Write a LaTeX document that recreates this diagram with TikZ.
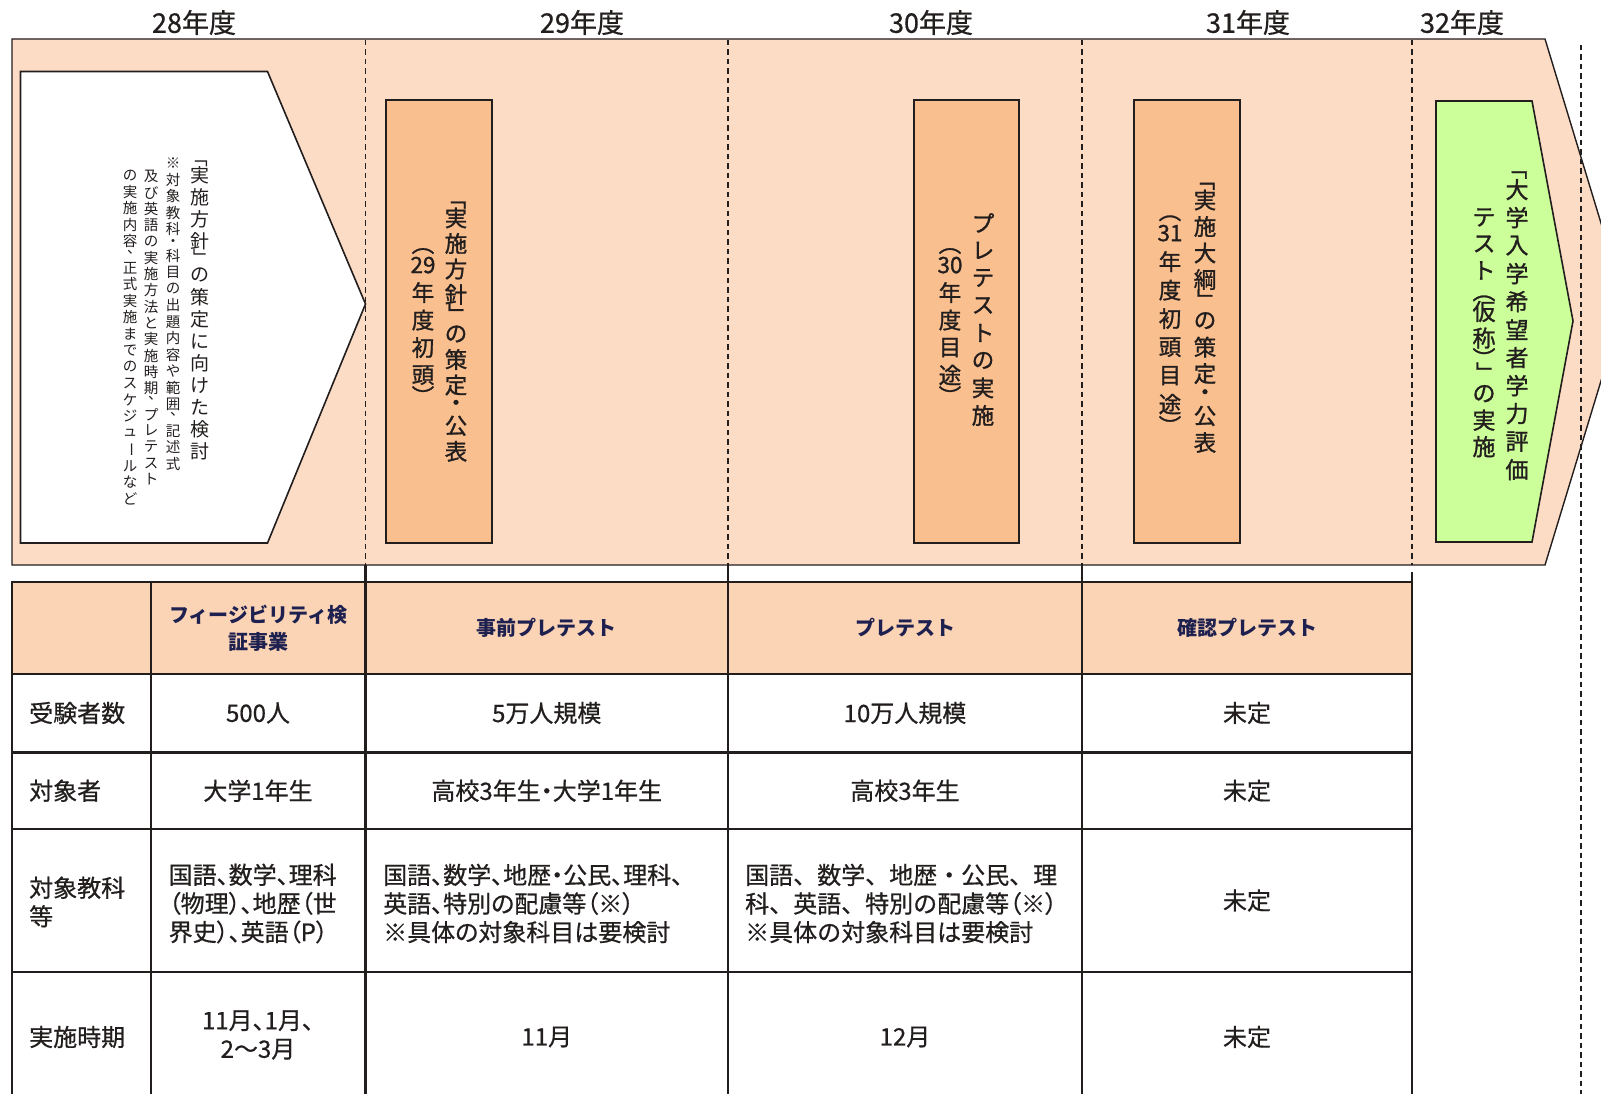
\documentclass[tikz,border=0pt]{standalone}
\usepackage{fontspec}
\usepackage{graphicx}
\setmainfont{Noto Sans CJK JP}
\newfontfamily\pfont[RawFeature=+palt,FakeBold=0.6]{Noto Sans CJK JP}
\newfontfamily\qfont[FakeBold=0.6]{Noto Sans CJK JP}
\newfontfamily\vfont[FakeBold=1.2]{Noto Sans CJK JP}
\definecolor{band}{RGB}{252,220,197}
\definecolor{hdr}{RGB}{251,212,181}
\definecolor{obox}{RGB}{249,191,143}
\definecolor{gbox}{RGB}{204,255,153}
\definecolor{navy}{RGB}{30,32,80}
\definecolor{ink}{RGB}{35,30,30}

\makeatletter
\newdimen\tz@p \newdimen\tz@w
\def\tz@lb{「}\def\tz@rb{」}\def\tz@lp{（}\def\tz@rp{）}\def\tz@bar{ー}\def\tz@cm{、}\def\tz@dot{・}
% \tate{pitch}{cell width}{items}
\newcommand\tate[3]{\vbox{\offinterlineskip\tz@p=#1\relax\tz@w=#2\relax
  \@tfor\tz@x:=#3\do{\tz@cell}}}
\def\tz@box#1#2{\hbox to\tz@w{\hss\vbox to #1\tz@p{\vss\hbox{#2}\vss}\hss}}
\def\tz@rot{\rotatebox[origin=c]{-90}{\tz@x}}
\def\tz@cell{%
  \ifx\tz@x\tz@lb \tz@box{.55}{\tz@rot}\else
  \ifx\tz@x\tz@rb \tz@box{.55}{\tz@rot}\else
  \ifx\tz@x\tz@lp \tz@box{.55}{\tz@rot}\else
  \ifx\tz@x\tz@rp \tz@box{.55}{\tz@rot}\else
  \ifx\tz@x\tz@bar \tz@box{1}{\tz@rot}\else
  \ifx\tz@x\tz@cm \tz@box{.6}{\kern.3em\raisebox{.45em}{\tz@x}\kern-.3em}\else
  \ifx\tz@x\tz@dot \tz@box{.6}{\tz@x}\else
  \tz@box{1}{\tz@x}\fi\fi\fi\fi\fi\fi\fi}
\makeatother

\tikzset{
  bandline/.style={draw=ink, line width=1.4pt},
  dashline/.style={draw=ink, line width=1.1pt, dash pattern=on 5.5pt off 4pt},
  stagebox/.style={draw=ink, line width=1.8pt, fill=obox, inner sep=0pt},
  vtext/.style={inner sep=0pt, anchor=north, text=ink},
  boxtext/.style={vtext, font=\vfont\fontsize{22.5}{25}\selectfont},
  yearlbl/.style={inner sep=0pt, text=ink, font=\qfont\fontsize{27}{30}\selectfont},
  gridline/.style={draw=ink, line width=2.2pt},
  hdtext/.style={inner sep=0pt, align=center, text=navy, font=\bfseries\fontsize{20}{27}\selectfont},
  celltext/.style={inner sep=0pt, align=center, text=ink, font=\pfont\fontsize{24}{28.6}\selectfont},
  lefttext/.style={celltext, align=left, anchor=west},
}

\begin{document}
\begin{tikzpicture}[x=1pt,y=-1pt]
\useasboundingbox (0,0) rectangle (1601,1094);
\clip (0,0) rectangle (1601,1094);
\fill[white] (0,0) rectangle (1601,1094);

% year labels
\node[yearlbl] (y28) at (194,22.5) {28年度};
\node[yearlbl] (y29) at (582,22.5) {29年度};
\node[yearlbl] (y30) at (931,22.5) {30年度};
\node[yearlbl] (y31) at (1248,22.5) {31年度};
\node[yearlbl] (y32) at (1462,22.5) {32年度};

% timeline band
\draw[bandline, fill=band] (12,39) -- (1545,39) -- (1625,302) -- (1545,565) -- (12,565) -- cycle;

% dashed year separators
\draw[dashline] (365.5,40) -- (365.5,565);
\draw[dashline] (728,40) -- (728,565);
\draw[dashline] (1082,40) -- (1082,565);
\draw[dashline] (1412,40) -- (1412,565);
\draw[dashline] (1581,45) -- (1581,1094);

% white arrow
\draw[draw=ink, line width=1.6pt, fill=white] (20.5,71.5) -- (267.5,71.5) -- (365.5,304) -- (267.5,543) -- (20.5,543) -- cycle;
\node[vtext, font=\fontsize{19}{21}\selectfont] (wa1) at (200,152) {\tate{22pt}{20pt}{「実施方針」の策定に向けた検討}};
\node[vtext, font=\fontsize{14.5}{16.5}\selectfont] (wa2) at (173,155) {\tate{16.5pt}{16pt}{※対象教科・科目の出題内容や範囲、記述式}};
\node[vtext, font=\fontsize{14.5}{16.5}\selectfont] (wa3) at (151,168) {\tate{16.3pt}{16pt}{及び英語の実施方法と実施時期、プレテスト}};
\node[vtext, font=\fontsize{14.5}{16.5}\selectfont] (wa4) at (130,167) {\tate{16.5pt}{16pt}{の実施内容、正式実施までのスケジュールなど}};

% stage boxes
\node[stagebox, minimum width=106pt, minimum height=443pt] (box1) at (439,321.5) {};
\node[stagebox, minimum width=105pt, minimum height=443pt] (box2) at (966.5,321.5) {};
\node[stagebox, minimum width=106pt, minimum height=443pt] (box3) at (1187,321.5) {};

\node[boxtext] (b1a) at (456,191) {\tate{25.5pt}{26pt}{「実施方針」の策定・公表}};
\node[boxtext] (b1b) at (423,236) {\tate{27.5pt}{26pt}{（{29}年度初頭）}};
\node[boxtext] (b2a) at (983,209) {\tate{27.5pt}{26pt}{プレテストの実施}};
\node[boxtext] (b2b) at (950,236) {\tate{27.5pt}{26pt}{（{30}年度目途）}};
\node[boxtext] (b3a) at (1205,172) {\tate{26.5pt}{26pt}{「実施大綱」の策定・公表}};
\node[boxtext] (b3b) at (1170,203) {\tate{28.5pt}{26pt}{（{31}年度初頭目途）}};

% green arrow
\draw[draw=ink, line width=1.6pt, fill=gbox] (1436,101) -- (1532,101) -- (1573,321) -- (1532,542) -- (1436,542) -- cycle;
\node[vtext, font=\vfont\fontsize{23}{26}\selectfont] (g1) at (1517,160) {\tate{28pt}{26pt}{「大学入学希望者学力評価}};
\node[vtext, font=\vfont\fontsize{23}{26}\selectfont] (g2) at (1484,204) {\tate{26.5pt}{26pt}{テスト（仮称）」の実施}};

% table
\fill[hdr] (12,582) rectangle (1412,674);
\draw[gridline] (365.5,565) -- (365.5,582);
\draw[gridline] (728,565) -- (728,582);
\draw[gridline] (1082,565) -- (1082,582);
\draw[gridline] (1412,572) -- (1412,582);
\draw[gridline] (12,582) rectangle (1412,1102);
\draw[gridline] (12,674) -- (1412,674);
\draw[gridline] (12,752.5) -- (1412,752.5);
\draw[gridline] (12,829) -- (1412,829);
\draw[gridline] (12,972) -- (1412,972);
\draw[gridline] (151,582) -- (151,1102);
\draw[gridline] (365.5,582) -- (365.5,1102);
\draw[gridline] (728,582) -- (728,1102);
\draw[gridline] (1082,582) -- (1082,1102);

% header row
\node[hdtext] (h1) at (258,628) {フィージビリティ検\\証事業};
\node[hdtext] (h2) at (546.75,628) {事前プレテスト};
\node[hdtext] (h3) at (905,628) {プレテスト};
\node[hdtext] (h4) at (1247,628) {確認プレテスト};

% row labels
\node[lefttext] (l1) at (29,713) {受験者数};
\node[lefttext] (l2) at (29,790.75) {対象者};
\node[lefttext] (l3) at (29,902) {対象教科\\等};
\node[lefttext] (l4) at (29,1037) {実施時期};

% row 1
\node[celltext] (r1c1) at (258,713) {500人};
\node[celltext] (r1c2) at (546.75,713) {5万人規模};
\node[celltext] (r1c3) at (905,713) {10万人規模};
\node[celltext] (r1c4) at (1247,713) {未定};
% row 2
\node[celltext] (r2c1) at (258,790.75) {大学1年生};
\node[celltext] (r2c2) at (546.75,790.75) {高校3年生・大学1年生};
\node[celltext] (r2c3) at (905,790.75) {高校3年生};
\node[celltext] (r2c4) at (1247,790.75) {未定};
% row 3
\node[lefttext] (r3c1) at (168.5,903.5) {国語、数学、理科\\（物理）、地歴（世\\界史）、英語（P）};
\node[lefttext] (r3c2) at (383,903.5) {国語、数学、地歴・公民、理科、\\英語、特別の配慮等（※）\\※具体の対象科目は要検討};
\node[lefttext, font=\qfont\fontsize{24}{28.6}\selectfont] (r3c3) at (745,903.5) {国語、数学、地歴・公民、理\\科、英語、特別の配慮等{\pfont（※）}\\※具体の対象科目は要検討};
\node[celltext] (r3c4) at (1247,900.5) {未定};
% row 4
\node[celltext] (r4c1) at (258,1035) {11月、1月、\\2～3月};
\node[celltext] (r4c2) at (546.75,1037) {11月};
\node[celltext] (r4c3) at (905,1037) {12月};
\node[celltext] (r4c4) at (1247,1037) {未定};
\end{tikzpicture}
\end{document}
